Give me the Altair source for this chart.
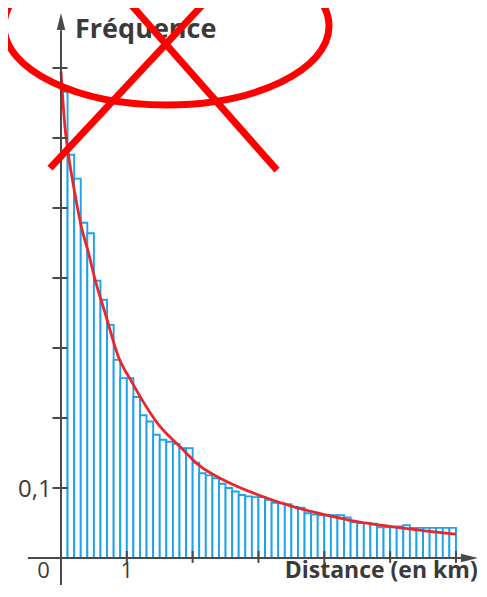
import altair as alt
import pandas as pd

# ---------------- data ----------------
BIN_WIDTH = 0.1  # km
freq = [0.666, 0.576, 0.542, 0.479, 0.464, 0.396, 0.369, 0.333, 0.283, 0.257,
        0.257, 0.230, 0.204, 0.195, 0.176, 0.169, 0.166, 0.163, 0.157, 0.157,
        0.136, 0.121, 0.118, 0.114, 0.106, 0.100, 0.095, 0.090, 0.088, 0.087,
        0.087, 0.083, 0.079, 0.078, 0.077, 0.073, 0.072, 0.064, 0.062, 0.061,
        0.061, 0.061, 0.061, 0.058, 0.051, 0.050, 0.050, 0.049, 0.044, 0.044,
        0.044, 0.045, 0.047, 0.043, 0.043, 0.043, 0.043, 0.043, 0.043, 0.043]

curve_km = [0.0, 0.06, 0.11, 0.21, 0.31, 0.42, 0.52, 0.67, 0.87, 1.06, 1.47,
            1.83, 2.09, 2.5, 3.0, 3.5, 4.0, 4.5, 5.0, 5.5, 6.0]
curve_val = [0.695, 0.616, 0.578, 0.521, 0.473, 0.435, 0.397, 0.350, 0.288,
             0.254, 0.192, 0.157, 0.133, 0.110, 0.090, 0.074, 0.062, 0.052,
             0.045, 0.039, 0.034]

x_ticks = [1, 2, 3, 4, 5, 6]
y_ticks = [0.1, 0.2, 0.3, 0.4, 0.5, 0.6, 0.7]

x_title = "Distance (en km)"
y_title = "Fréquence"

# red hand-drawn annotation (data units)
cross_x1 = [-0.167, 1.003]
cross_y1 = [0.557, 0.797]
cross_x2 = [2.218, 3.281]
cross_y2 = [0.797, 0.554]
ellipse_center = (1.603, 0.760)

# ---------------- tables ----------------
bars = pd.DataFrame({
    "x0": [i * BIN_WIDTH for i in range(len(freq))],
    "x1": [(i + 1) * BIN_WIDTH for i in range(len(freq))],
    "f": freq,
    "z": [0.0] * len(freq),
})
curve = pd.DataFrame({"km": curve_km, "v": curve_val})

W, H = 471, 577
XS = alt.Scale(domain=[-0.805, 6.350], nice=False, zero=False)
YS = alt.Scale(domain=[-0.0386, 0.7857], nice=False, zero=False)
AX = "#4a4a4a"
TXT = "#3a3a3a"
FONT = "Open Sans"


def X(field):
    return alt.X(field, type="quantitative", scale=XS, axis=None)


def Y(field):
    return alt.Y(field, type="quantitative", scale=YS, axis=None)


def text_layer(x, y, t, align, size, weight="normal"):
    return alt.Chart(pd.DataFrame({"x": [x], "y": [y], "t": [t]})).mark_text(
        font=FONT, fontSize=size, fontWeight=weight, color=TXT,
        align=align, baseline="alphabetic"
    ).encode(x=X("x"), y=Y("y"), text="t:N")


def seg_layer(df, color, width):
    return alt.Chart(df).mark_rule(color=color, strokeWidth=width).encode(
        x=X("x"), y=Y("y"), x2="x2", y2="y2")


bar_layer = alt.Chart(bars).mark_rect(
    fill="white", stroke="#1fa3e8", strokeWidth=1.9
).encode(x=X("x0"), x2="x1", y=Y("f"), y2="z")

curve_layer = alt.Chart(curve).mark_line(
    color="#e8262c", strokeWidth=2.8, interpolate="monotone"
).encode(x=X("km"), y=Y("v"))

# axes drawn as rules
axis_df = pd.DataFrame({
    "x": [-0.501, 0.0], "x2": [6.08, 0.0],
    "y": [0.0, -0.0386], "y2": [0.0, 0.754],
})
axis_layer = seg_layer(axis_df, AX, 2)

xt = pd.DataFrame({"x": x_ticks, "x2": x_ticks,
                   "y": [0.010] * len(x_ticks), "y2": [-0.007] * len(x_ticks)})
xtick_layer = seg_layer(xt, AX, 2)

yt = pd.DataFrame({"y": y_ticks, "y2": y_ticks,
                   "x": [-0.129] * len(y_ticks), "x2": [0.099] * len(y_ticks)})
ytick_layer = seg_layer(yt, AX, 2)

arrow_x = alt.Chart(pd.DataFrame({"x": [6.205], "y": [0.0]})).mark_point(
    shape="M1,0L-1,-0.5L-1,0.5Z", size=289, filled=True, color=AX, opacity=1
).encode(x=X("x"), y=Y("y"))
arrow_y = alt.Chart(pd.DataFrame({"x": [0.0], "y": [0.7664]})).mark_point(
    shape="M0,-1L0.5,1L-0.5,1Z", size=289, filled=True, color=AX, opacity=1
).encode(x=X("x"), y=Y("y"))

lab0 = text_layer(-0.266, -0.0286, "0", "center", 22)
lab1 = text_layer(1.0, -0.0286, "1", "center", 22)
lab01 = text_layer(-0.140, 0.087, "0,1", "right", 24)
title_y = text_layer(0.213, 0.743, y_title, "left", 27, "bold")
title_x = text_layer(6.33, -0.0286, x_title, "right", 23, "bold")

cross = pd.DataFrame({"x": cross_x1, "y": cross_y1, "x2": cross_x2, "y2": cross_y2})
cross_layer = seg_layer(cross, "#ff0000", 7)

ell_layer = alt.Chart(pd.DataFrame({"x": [ellipse_center[0]], "y": [ellipse_center[1]]})).mark_point(
    shape="M-1,0A1,0.486 0 1,0 1,0A1,0.486 0 1,0 -1,0Z", size=105625,
    filled=False, color="#ff0000", strokeWidth=7, opacity=1
).encode(x=X("x"), y=Y("y"))

chart = alt.layer(
    bar_layer, curve_layer, axis_layer, xtick_layer, ytick_layer,
    arrow_x, arrow_y, lab0, lab1, lab01, title_y, title_x, ell_layer, cross_layer
).properties(
    width=W, height=H, padding=0,
    autosize=alt.AutoSizeParams(type="none"),
).configure_view(stroke=None)

chart.save("out.html", embed_options={"renderer": "svg", "actions": False})
